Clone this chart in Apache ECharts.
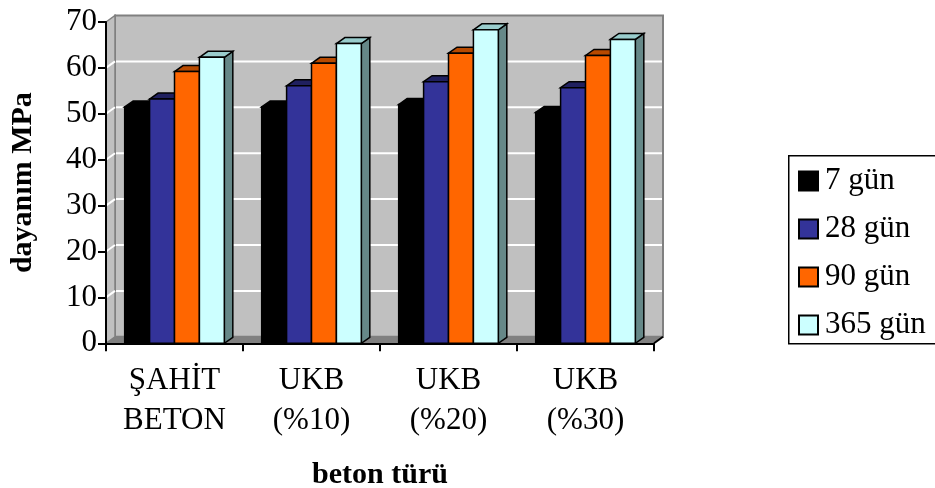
<!DOCTYPE html>
<html>
<head>
<meta charset="utf-8">
<script src="https://cdn.jsdelivr.net/npm/echarts@6/dist/echarts.min.js"></script>
<style>
  html, body { margin: 0; padding: 0; background: #ffffff; }
  #chart { width: 935px; height: 488px; }
</style>
</head>
<body>
<div id="chart"></div>
<script>
// Concrete types on the category axis
const categories = ['ŞAHİT\nBETON', 'UKB\n(%10)', 'UKB\n(%20)', 'UKB\n(%30)'];
// Curing ages (legend entries)
const seriesNames = ['7 gün', '28 gün', '90 gün', '365 gün'];
// Compressive strength, MPa
const gun7   = [51.5, 51.5, 52.0, 50.3];
const gun28  = [53.2, 56.1, 57.0, 55.7];
const gun90  = [59.2, 61.0, 63.2, 62.7];
const gun365 = [62.3, 65.3, 68.3, 66.2];
// Value axis ticks
const yTicks = [0, 10, 20, 30, 40, 50, 60, 70];

const seriesValues = [gun7, gun28, gun90, gun365];

// front / top / side face colours of each series
const faces = [
  { front: '#000000', top: '#000000', side: '#000000' },
  { front: '#333399', top: '#20205f', side: '#1a1a4d' },
  { front: '#FF6600', top: '#b84a00', side: '#993d00' },
  { front: '#CCFFFF', top: '#99cccc', side: '#668888' }
];

const FONT = '"Liberation Serif", "Times New Roman", serif';
const WALL = [9, -6.5];   // depth offset of the back wall
const BAR = [8.5, -6];    // depth offset of a bar
const GAP_RATIO = 1.5;    // gap between clusters, in bar widths

const chart = echarts.init(document.getElementById('chart'));

function poly(points, fill, stroke, lw) {
  return {
    type: 'polygon',
    shape: { points: points },
    style: { fill: fill, stroke: stroke || 'none', lineWidth: lw || 0, lineJoin: 'miter' }
  };
}

// back wall, side wall and floor
function renderWalls(params, api) {
  const cs = params.coordSys;
  const x0 = cs.x, x1 = cs.x + cs.width;
  const yTop = api.coord([0, yTicks[yTicks.length - 1]])[1];
  const yBot = api.coord([0, yTicks[0]])[1];
  const dx = WALL[0], dy = WALL[1];
  return {
    type: 'group',
    children: [
      // back wall
      poly([[x0 + dx, yTop + dy], [x1 + dx, yTop + dy], [x1 + dx, yBot + dy], [x0 + dx, yBot + dy]],
        '#c0c0c0', '#808080', 2),
      // left side wall
      poly([[x0, yTop], [x0 + dx, yTop + dy], [x0 + dx, yBot + dy], [x0, yBot]],
        '#c0c0c0', '#808080', 1.5),
      // floor
      poly([[x0, yBot], [x1, yBot], [x1 + dx, yBot + dy], [x0 + dx, yBot + dy]],
        '#808080', 'none', 0),
      {
        type: 'line',
        shape: { x1: x1, y1: yBot, x2: x1 + dx, y2: yBot + dy },
        style: { stroke: '#000000', lineWidth: 2 }
      }
    ]
  };
}

// grid lines on the back wall and the side wall
function renderGrid(params, api) {
  const v = api.value(0);
  if (v === yTicks[0] || v === yTicks[yTicks.length - 1]) return null;
  const cs = params.coordSys;
  const x0 = cs.x, x1 = cs.x + cs.width;
  const y = api.coord([0, v])[1];
  const dx = WALL[0], dy = WALL[1];
  return {
    type: 'group',
    children: [
      { type: 'line', shape: { x1: x0 + dx + 1, y1: y + dy, x2: x1 + dx - 1, y2: y + dy },
        style: { stroke: '#ffffff', lineWidth: 2 } },
      { type: 'line', shape: { x1: x0, y1: y, x2: x0 + dx, y2: y + dy },
        style: { stroke: '#ffffff', lineWidth: 2 } }
    ]
  };
}

// one 3D bar: side face, top face, front face
function makeBarRenderer(s) {
  return function (params, api) {
    const cat = api.value(0);
    const val = api.value(1);
    const band = api.size([1, 0])[0];
    const w = band / (seriesValues.length + GAP_RATIO);
    const c = api.coord([cat, val]);
    const b = api.coord([cat, 0]);
    const xl = c[0] + (s - (seriesValues.length - 1) / 2) * w - w / 2;
    const xr = xl + w;
    const yt = c[1], yb = b[1];
    const dx = BAR[0], dy = BAR[1];
    const f = faces[s];
    return {
      type: 'group',
      children: [
        poly([[xr, yt], [xr + dx, yt + dy], [xr + dx, yb + dy], [xr, yb]], f.side, '#000000', 1.5),
        poly([[xl, yt], [xl + dx, yt + dy], [xr + dx, yt + dy], [xr, yt]], f.top, '#000000', 1.5),
        poly([[xl, yt], [xr, yt], [xr, yb], [xl, yb]], f.front, '#000000', 1.5)
      ]
    };
  };
}

const series = [
  {
    type: 'custom',
    name: 'walls',
    silent: true,
    z: 1,
    renderItem: renderWalls,
    data: [[0]],
    encode: { x: -1, y: -1 }
  },
  {
    type: 'custom',
    name: 'grid',
    silent: true,
    z: 1,
    renderItem: renderGrid,
    data: yTicks.map(v => [v]),
    encode: { x: -1, y: -1 }
  }
];

seriesValues.forEach((vals, s) => {
  series.push({
    type: 'custom',
    name: seriesNames[s],
    z: 2,
    itemStyle: { color: faces[s].front, borderColor: '#000000', borderWidth: 1.5 },
    renderItem: makeBarRenderer(s),
    data: vals.map((v, i) => [i, v]),
    encode: { x: 0, y: 1 }
  });
});

chart.setOption({
  animation: false,
  backgroundColor: '#ffffff',
  grid: { left: 106, top: 22, width: 548, height: 321.3, containLabel: false, outerBoundsMode: 'none' },
  // legend frame, running off the right edge of the page
  graphic: [{
    type: 'rect',
    left: 788, top: 155, z: 0,
    shape: { width: 200, height: 188 },
    style: { fill: '#ffffff', stroke: '#000000', lineWidth: 1.5 }
  }],
  xAxis: {
    type: 'category',
    data: categories,
    boundaryGap: true,
    z: 5,
    axisLine: { show: true, lineStyle: { color: '#000000', width: 2 } },
    axisTick: { show: true, interval: 0, length: 8, inside: false, lineStyle: { color: '#000000', width: 2 } },
    axisLabel: {
      interval: 0, margin: 18, color: '#000000',
      fontFamily: FONT, fontSize: 31, lineHeight: 40
    },
    splitLine: { show: false },
    name: 'beton türü',
    nameLocation: 'middle',
    nameGap: 117,
    nameTextStyle: { fontFamily: FONT, fontSize: 30, fontWeight: 'bold', color: '#000000' }
  },
  yAxis: {
    type: 'value',
    min: 0, max: 70, interval: 10,
    z: 5,
    axisLine: { show: true, lineStyle: { color: '#000000', width: 2 } },
    axisTick: { show: true, length: 8, inside: false, lineStyle: { color: '#000000', width: 2 } },
    axisLabel: { margin: 9, color: '#000000', fontFamily: FONT, fontSize: 31 },
    splitLine: { show: false },
    name: 'dayanım MPa',
    nameLocation: 'middle',
    nameGap: 68,
    nameTextStyle: { fontFamily: FONT, fontSize: 30, fontWeight: 'bold', color: '#000000' }
  },
  legend: {
    data: seriesNames,
    orient: 'vertical',
    left: 788,
    top: 155,
    padding: [10, 10, 3, 10],
    itemGap: 16,
    itemWidth: 19,
    itemHeight: 19,
    icon: 'rect',
    borderWidth: 0,
    textStyle: { fontFamily: FONT, fontSize: 31, lineHeight: 32, color: '#000000', padding: [0, 0, 0, 2] }
  },
  series: series
});
</script>
</body>
</html>
